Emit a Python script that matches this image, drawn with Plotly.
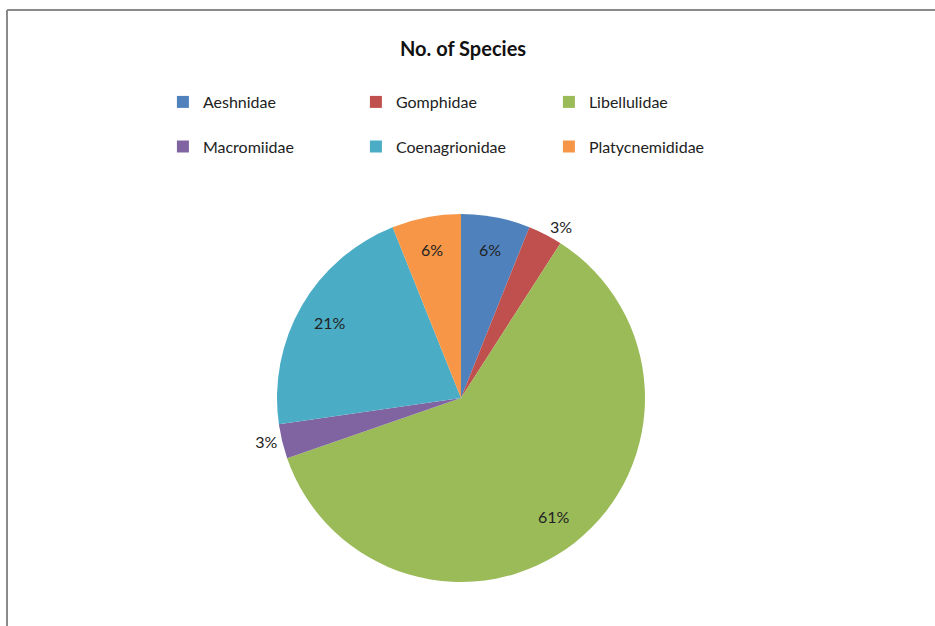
import math
import plotly.graph_objects as go

families = ["Aeshnidae", "Gomphidae", "Libellulidae", "Macromiidae", "Coenagrionidae", "Platycnemididae"]
species = [2, 1, 20, 1, 7, 2]
colors = ["#4F81BD", "#C0504D", "#9BBB59", "#8064A2", "#4BACC6", "#F79646"]
label_outside = [False, True, False, True, False, False]

W, H = 935, 626
cx, cy, r = 461, 398, 184
label_frac = 0.82

total = sum(species)
pct = [f"{round(100 * v / total)}%" for v in species]

fig = go.Figure(go.Pie(
    labels=[f + "<br> " for f in families],
    values=species,
    sort=False,
    direction="clockwise",
    rotation=0,
    marker=dict(colors=colors, line=dict(width=0)),
    text=[p if o else "" for p, o in zip(pct, label_outside)],
    texttemplate="%{text}",
    textposition=["outside" if o else "none" for o in label_outside],
    textfont=dict(family="Lato", size=16, color="#222222"),
    domain=dict(x=[(cx - r) / W, (cx + r) / W], y=[(H - cy - r) / H, (H - cy + r) / H]),
    hoverinfo="label+value+percent",
))

# inside labels at ~0.82 radius along each slice's mid-angle (Excel-like placement)
annotations = [dict(text="<b>No. of Species</b>", x=463 / W, y=1 - 48 / H, xref="paper", yref="paper",
                    xanchor="center", yanchor="middle", showarrow=False,
                    font=dict(family="Lato", size=20, color="#111111"))]
cum = 0
for v, p, o in zip(species, pct, label_outside):
    mid = (cum + v / 2) / total * 2 * math.pi
    cum += v
    if o:
        continue
    px = cx + label_frac * r * math.sin(mid)
    py = cy - label_frac * r * math.cos(mid)
    annotations.append(dict(text=p, x=px / W, y=1 - py / H, xref="paper", yref="paper",
                            xanchor="center", yanchor="middle", showarrow=False,
                            font=dict(family="Lato", size=16, color="#222222")))

fig.update_layout(
    width=W, height=H,
    margin=dict(l=0, r=0, t=0, b=0),
    paper_bgcolor="white",
    plot_bgcolor="white",
    font=dict(family="Lato", color="#222222"),
    annotations=annotations,
    legend=dict(orientation="h", x=224 / W, xanchor="left", y=1 - 85 / H, yanchor="top",
                entrywidth=148, valign="top", font=dict(family="Lato", size=16, color="#222222"),
                bgcolor="rgba(0,0,0,0)"),
    shapes=[
        dict(type="line", xref="paper", yref="paper", x0=7 / W, x1=1, y0=1 - 10 / H, y1=1 - 10 / H,
             line=dict(color="#8a8a8a", width=2)),
        dict(type="line", xref="paper", yref="paper", x0=7 / W, x1=7 / W, y0=0, y1=1 - 10 / H,
             line=dict(color="#8a8a8a", width=2)),
    ],
)

fig.write_html("out.html")
